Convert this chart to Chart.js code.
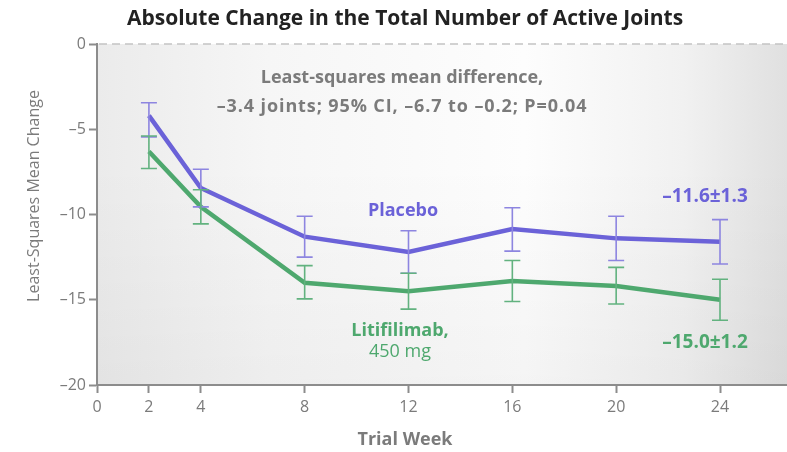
<!DOCTYPE html>
<html>
<head>
<meta charset="utf-8">
<script src="https://cdn.jsdelivr.net/npm/chart.js@4"></script>
<style>
  html, body { margin: 0; padding: 0; background: #fff; }
  #wrap { width: 787px; height: 452px; }
</style>
</head>
<body>
<div id="wrap"><canvas id="chart" width="787" height="452"></canvas></div>
<script>
// values
const weeks        = [2, 4, 8, 12, 16, 20, 24];
const weekTicks    = [0, 2, 4, 8, 12, 16, 20, 24];
const changeTicks  = [0, -5, -10, -15, -20];

const placeboMean  = [-4.2, -8.45, -11.3, -12.2, -10.85, -11.4, -11.6];
const placeboLow   = [-5.45, -9.55, -12.5, -13.45, -12.15, -12.7, -12.9];
const placeboHigh  = [-3.45, -7.35, -10.1, -10.95, -9.6, -10.1, -10.3];

const litiMean     = [-6.3, -9.55, -14.0, -14.5, -13.9, -14.2, -15.0];
const litiLow      = [-7.3, -10.55, -14.95, -15.55, -15.1, -15.25, -16.2];
const litiHigh     = [-5.4, -8.55, -13.0, -13.45, -12.7, -13.1, -13.8];

const BLUE      = '#6b62d8';
const BLUE_ERR  = '#8d85e0';
const GREEN     = '#4ea86e';
const GREEN_ERR = '#62b27f';
const GREY      = '#7b7b7b';
const AXIS      = '#8c8c8c';
const FONT      = "'Open Sans', Lato, sans-serif";

const dash = s => String(s).replace('-', '\u2013');

// panel shading behind the plot
const panelBg = {
  id: 'panelBg',
  beforeDraw(chart) {
    const { ctx, chartArea: a } = chart;
    const w = chart.width;
    ctx.save();
    ctx.fillStyle = '#ffffff';
    ctx.fillRect(0, 0, w, chart.height);
    const g = ctx.createLinearGradient(a.left, 0, w, 0);
    g.addColorStop(0, '#ebebeb');
    g.addColorStop(0.25, '#f6f6f6');
    g.addColorStop(0.62, '#fdfdfd');
    g.addColorStop(0.85, '#f1f1f1');
    g.addColorStop(1, '#e0e0e0');
    ctx.fillStyle = g;
    ctx.fillRect(a.left, a.top, w - a.left, a.bottom - a.top);
    const v = ctx.createLinearGradient(0, a.top + 120, 0, a.bottom);
    v.addColorStop(0, 'rgba(0,0,0,0)');
    v.addColorStop(1, 'rgba(0,0,0,0.035)');
    ctx.fillStyle = v;
    ctx.fillRect(a.left, a.top, w - a.left, a.bottom - a.top);
    ctx.restore();
  },
};

// dashed reference line at zero
const zeroLine = {
  id: 'zeroLine',
  beforeDatasetsDraw(chart) {
    const { ctx, scales: { y } } = chart;
    const py = y.getPixelForValue(0);
    ctx.save();
    ctx.strokeStyle = '#c4c4c4';
    ctx.lineWidth = 1.5;
    ctx.setLineDash([8, 5]);
    ctx.beginPath();
    ctx.moveTo(chart.chartArea.left + 2, py);
    ctx.lineTo(chart.width, py);
    ctx.stroke();
    ctx.restore();
  },
};

// error bars from the low/high arrays
const errorBars = {
  id: 'errorBars',
  afterDatasetsDraw(chart) {
    const { ctx, scales: { x, y } } = chart;
    ctx.save();
    chart.data.datasets.forEach(ds => {
      ctx.strokeStyle = ds.errColor;
      ctx.lineWidth = 1.6;
      ds.data.forEach((pt, i) => {
        const px = x.getPixelForValue(pt.x);
        const lo = y.getPixelForValue(ds.errLow[i]);
        const hi = y.getPixelForValue(ds.errHigh[i]);
        ctx.beginPath();
        ctx.moveTo(px, lo); ctx.lineTo(px, hi);
        ctx.moveTo(px - 8, lo); ctx.lineTo(px + 8, lo);
        ctx.moveTo(px - 8, hi); ctx.lineTo(px + 8, hi);
        ctx.stroke();
      });
    });
    ctx.restore();
  },
};

// title and text labels placed on the plot
const labels = {
  id: 'labels',
  afterDraw(chart) {
    const { ctx } = chart;
    const put = (text, x, y, color, weight, size, spacing) => {
      ctx.fillStyle = color;
      ctx.font = `${weight} ${size}px ${FONT}`;
      ctx.letterSpacing = spacing || '0px';
      ctx.fillText(text, x, y);
    };
    ctx.save();
    ctx.textAlign = 'center';
    ctx.textBaseline = 'alphabetic';
    put('Absolute Change in the Total Number of Active Joints', 405, 25, '#222', 'bold', 21);
    put('Least-squares mean difference,', 402, 83, GREY, 'bold', 18);
    put('\u20133.4 joints; 95% CI, \u20136.7 to \u20130.2; P=0.04', 402, 112, GREY, 'bold', 18, '0.9px');
    put('Placebo', 403, 216, BLUE, 'bold', 18);
    put('\u201311.6\u00b11.3', 705, 202, BLUE, 'bold', 19);
    put('Litifilimab,', 400, 336, GREEN, 'bold', 18);
    put('450 mg', 400, 357, GREEN, 'normal', 18);
    put('\u201315.0\u00b11.2', 705, 348, GREEN, 'bold', 19);
    put('Trial Week', 405, 445, GREY, 'bold', 18);
    ctx.translate(39, 196);
    ctx.rotate(-Math.PI / 2);
    put('Least-Squares Mean Change', 0, 0, GREY, '500', 16);
    ctx.restore();
  },
};

const toPoints = (xs, ys) => xs.map((w, i) => ({ x: w, y: ys[i] }));

new Chart(document.getElementById('chart'), {
  type: 'line',
  data: {
    datasets: [
      {
        label: 'Placebo',
        data: toPoints(weeks, placeboMean),
        errLow: placeboLow, errHigh: placeboHigh, errColor: BLUE_ERR,
        borderColor: BLUE, borderWidth: 4.5, pointRadius: 0, tension: 0,
      },
      {
        label: 'Litifilimab, 450 mg',
        data: toPoints(weeks, litiMean),
        errLow: litiLow, errHigh: litiHigh, errColor: GREEN_ERR,
        borderColor: GREEN, borderWidth: 4.5, pointRadius: 0, tension: 0,
      },
    ],
  },
  options: {
    responsive: false,
    animation: false,
    layout: { padding: { top: 44, left: 0, right: 0, bottom: 0 } },
    plugins: {
      legend: { display: false },
      tooltip: { enabled: false },
      title: { display: false },
    },
    scales: {
      x: {
        type: 'linear',
        min: 0,
        max: 24 * 690 / 623,
        afterBuildTicks: s => { s.ticks = weekTicks.map(v => ({ value: v })); },
        afterFit: s => { s.height = 67; },
        grid: { drawOnChartArea: false, drawTicks: true, tickLength: 8, tickWidth: 2, color: AXIS },
        border: { display: true, color: AXIS, width: 2 },
        ticks: { color: GREY, font: { family: FONT, size: 16 }, padding: 5, maxRotation: 0 },
      },
      y: {
        min: -20,
        max: 0,
        afterBuildTicks: s => { s.ticks = changeTicks.map(v => ({ value: v })); },
        afterFit: s => { s.width = 97; },
        grid: { drawOnChartArea: false, drawTicks: true, tickLength: 8, tickWidth: 2, color: AXIS },
        border: { display: true, color: AXIS, width: 2 },
        ticks: { color: GREY, font: { family: FONT, size: 16 }, padding: 3, callback: v => dash(v) },
      },
    },
  },
  plugins: [panelBg, zeroLine, errorBars, labels],
});
</script>
</body>
</html>
